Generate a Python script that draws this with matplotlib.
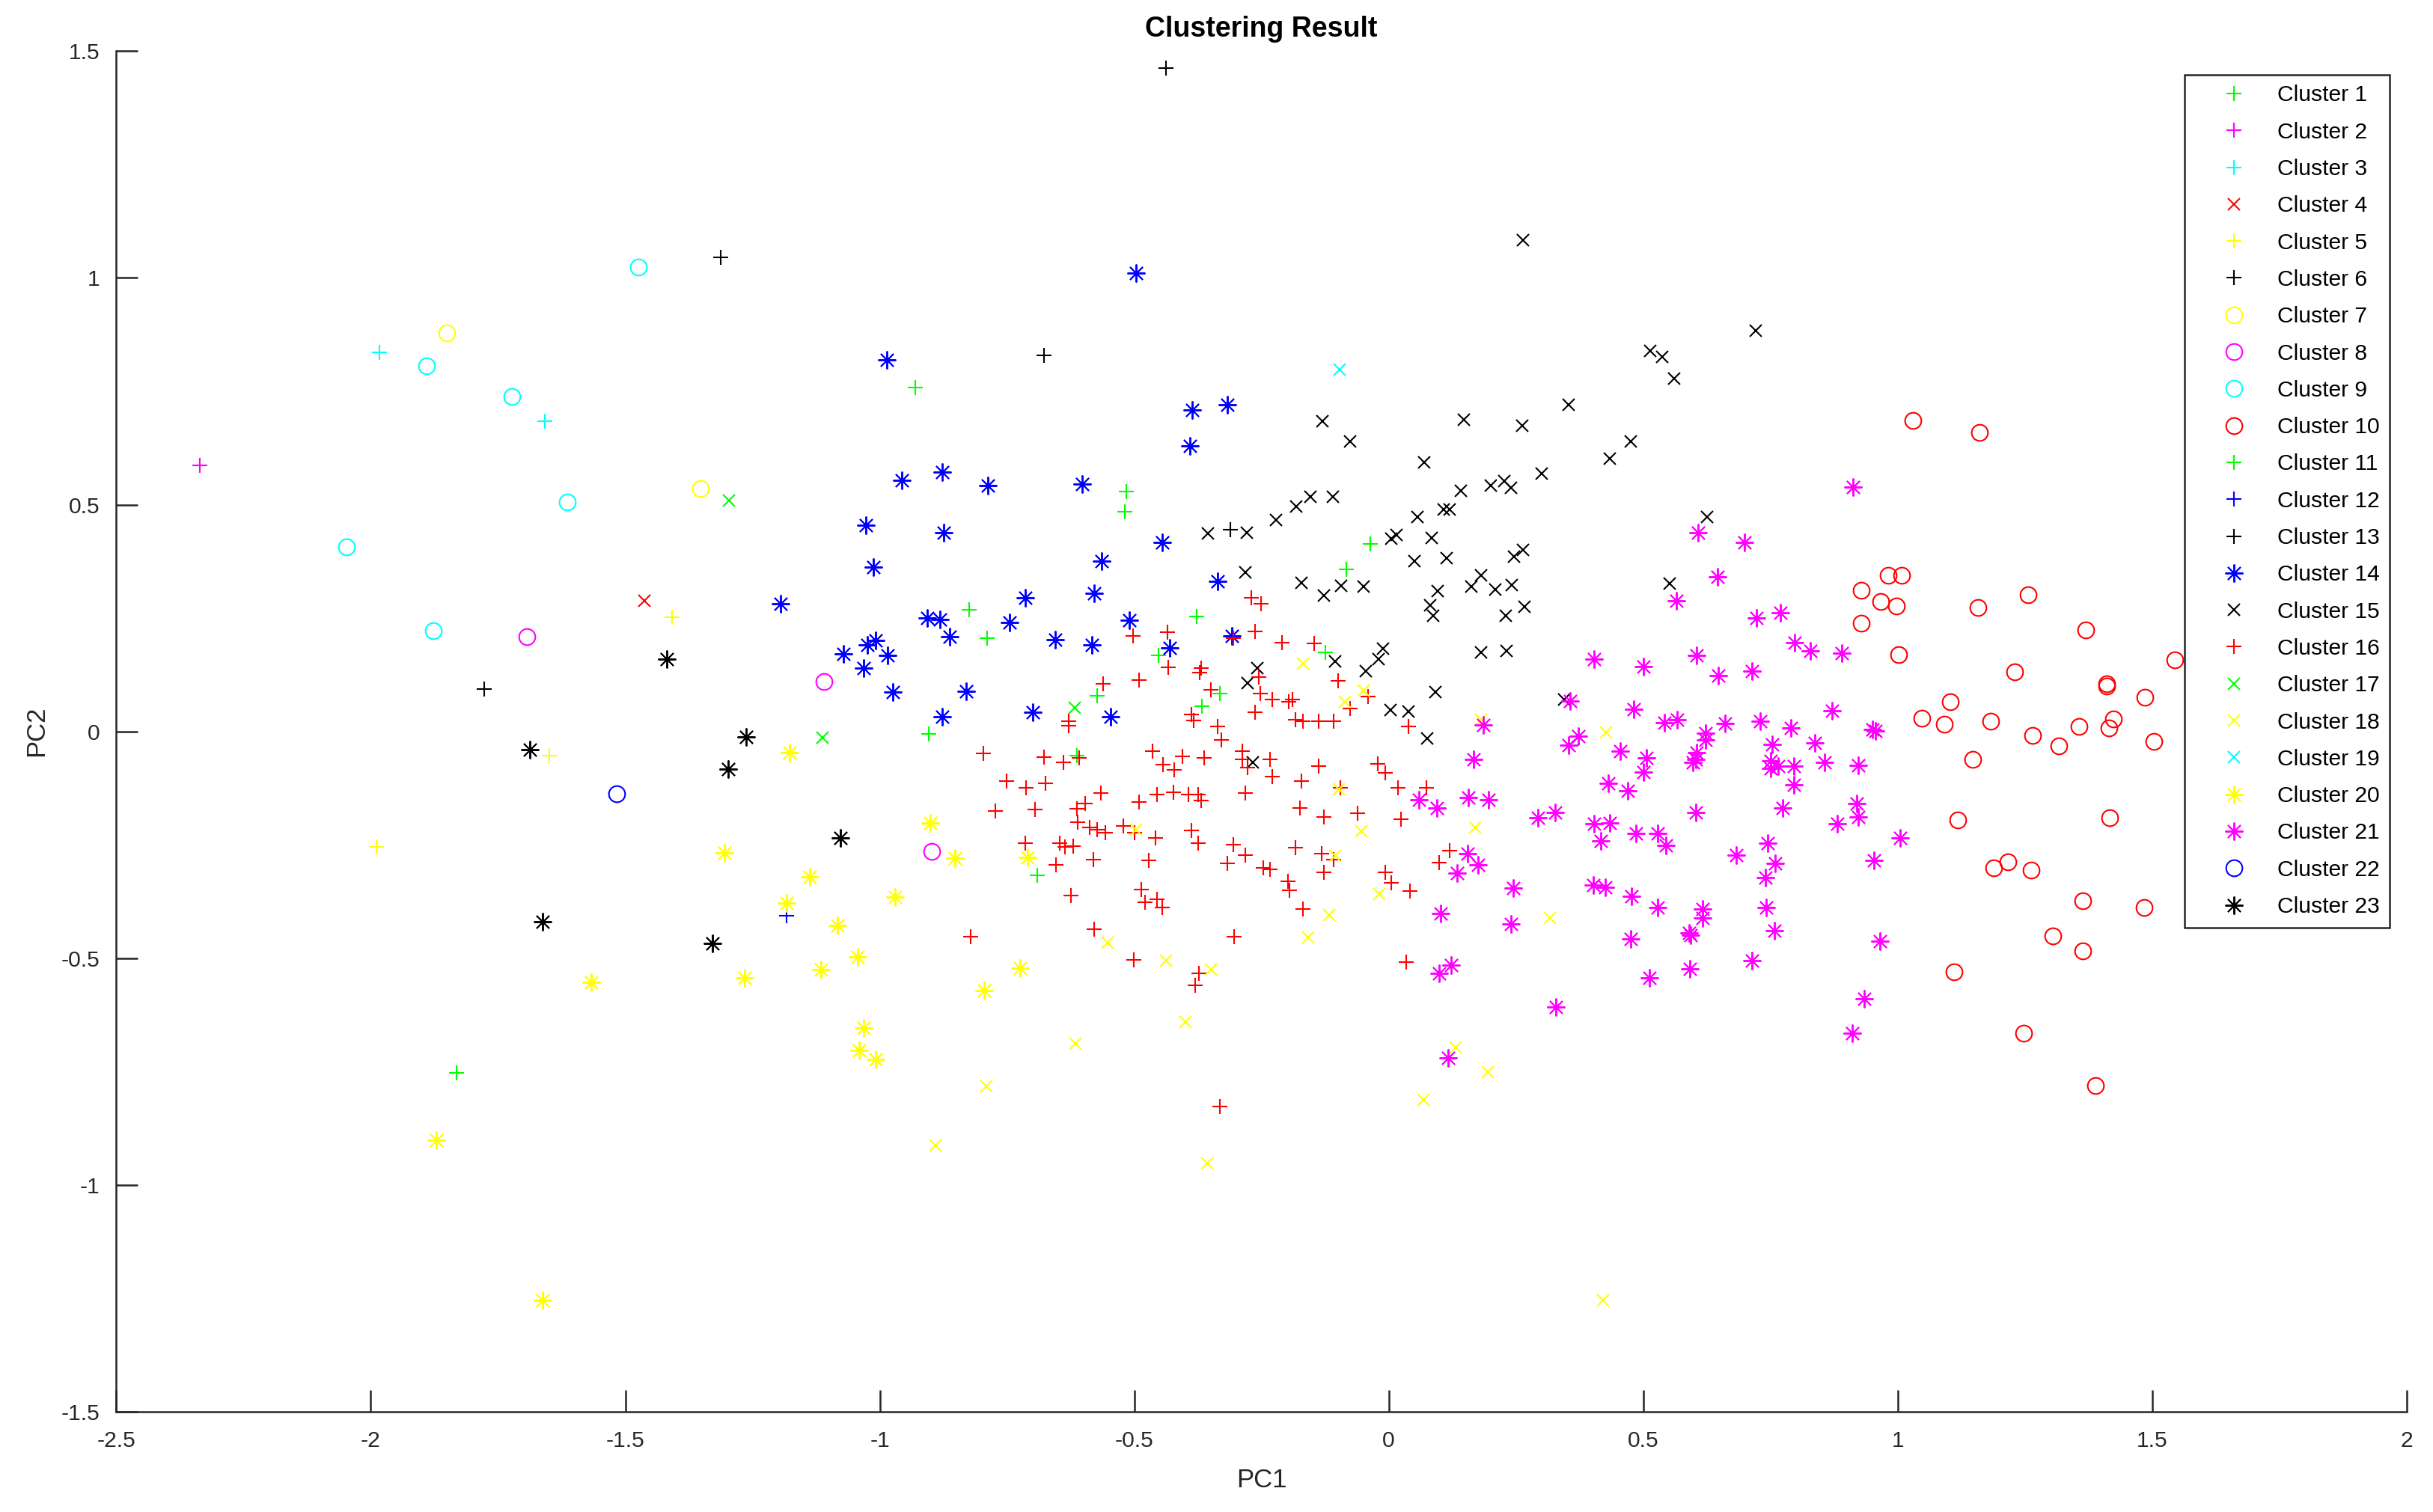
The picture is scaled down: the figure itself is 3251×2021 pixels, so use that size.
import matplotlib
matplotlib.use("Agg")
import matplotlib.pyplot as plt
import numpy as np

plt.rcParams['font.family'] = ['Liberation Sans', 'DejaVu Sans']
plt.rcParams['axes.unicode_minus'] = False

# ---------------- data (PC1, PC2) per cluster ----------------
C1 = [(-1.831, -0.752), (-0.930, 0.759), (-0.515, 0.529), (-0.518, 0.485), (-0.825, 0.269),
      (-0.789, 0.205), (-0.904, -0.005), (-0.690, -0.318)]
C2 = [(-2.336, 0.586)]
C3 = [(-1.983, 0.835), (-1.658, 0.684)]
C4 = [(-1.462, 0.288)]
C5 = [(-1.408, 0.251), (-1.649, -0.053), (-1.989, -0.254)]
C6 = [(-1.777, 0.094), (-1.312, 1.046), (-0.437, 1.462)]
C7 = [(-1.851, 0.878), (-1.352, 0.535)]
C8 = [(-1.693, 0.209), (-1.109, 0.110), (-0.898, -0.264)]
C9 = [(-1.474, 1.023), (-1.890, 0.806), (-1.723, 0.739), (-1.614, 0.506), (-2.048, 0.407),
      (-1.877, 0.222)]
C10 = [(0.981, 0.344), (1.007, 0.344), (0.929, 0.311), (0.966, 0.286), (0.997, 0.277),
       (0.928, 0.239), (1.002, 0.169), (1.157, 0.273), (1.256, 0.301), (1.370, 0.224),
       (1.545, 0.158), (1.230, 0.132), (1.410, 0.105), (1.410, 0.100), (1.485, 0.076),
       (1.103, 0.066), (1.047, 0.029), (1.091, 0.016), (1.183, 0.022), (1.424, 0.028),
       (1.415, 0.007), (1.356, 0.011), (1.265, -0.009), (1.317, -0.032), (1.503, -0.022),
       (1.147, -0.061), (1.118, -0.196), (1.417, -0.191), (1.189, -0.300), (1.216, -0.288),
       (1.262, -0.306), (1.364, -0.373), (1.484, -0.388), (1.305, -0.451), (1.364, -0.484),
       (1.110, -0.530), (1.247, -0.665), (1.389, -0.780), (1.030, 0.686), (1.161, 0.659)]
C11 = [(-0.377, 0.253), (-0.452, 0.167), (-0.573, 0.079), (-0.367, 0.055), (-0.332, 0.084),
       (-0.612, -0.053), (-0.037, 0.414), (-0.083, 0.357), (-0.125, 0.174)]
C12 = [(-1.183, -0.406)]
C13 = [(-0.677, 0.829), (-0.311, 0.444)]
C14 = [(-0.497, 1.011), (-0.986, 0.819), (-0.386, 0.708), (-0.317, 0.721), (-0.391, 0.630),
       (-0.956, 0.554), (-0.877, 0.571), (-0.787, 0.542), (-0.603, 0.546), (-1.027, 0.454),
       (-0.874, 0.438), (-1.013, 0.363), (-1.195, 0.281), (-0.445, 0.417), (-0.564, 0.375),
       (-0.336, 0.331), (-0.714, 0.294), (-0.579, 0.304), (-0.906, 0.250), (-0.882, 0.247),
       (-0.862, 0.209), (-0.745, 0.241), (-0.510, 0.246), (-0.656, 0.202), (-0.583, 0.190),
       (-0.430, 0.184), (-0.308, 0.210), (-1.071, 0.171), (-1.025, 0.190), (-1.008, 0.200),
       (-0.984, 0.167), (-1.032, 0.140), (-0.974, 0.087), (-0.831, 0.089), (-0.877, 0.033),
       (-0.700, 0.043), (-0.547, 0.033)]
C15 = [(0.264, 1.083), (0.721, 0.884), (0.513, 0.839), (0.537, 0.826), (0.561, 0.778),
       (0.354, 0.721), (-0.130, 0.684), (-0.076, 0.640), (0.148, 0.687), (0.262, 0.674),
       (0.475, 0.640), (0.434, 0.602), (0.070, 0.593), (0.300, 0.568), (0.201, 0.542),
       (0.227, 0.552), (0.240, 0.537), (0.142, 0.530), (-0.154, 0.518), (-0.110, 0.518),
       (-0.182, 0.496), (0.108, 0.490), (0.119, 0.490), (-0.222, 0.466), (-0.279, 0.439),
       (0.057, 0.473), (0.005, 0.425), (0.015, 0.433), (0.084, 0.426), (0.050, 0.375),
       (0.113, 0.382), (0.246, 0.386), (0.264, 0.400), (-0.282, 0.350), (-0.172, 0.327),
       (-0.127, 0.299), (-0.093, 0.321), (-0.049, 0.319), (0.096, 0.309), (0.081, 0.279),
       (0.087, 0.255), (0.162, 0.319), (0.182, 0.345), (0.210, 0.313), (0.242, 0.323),
       (0.266, 0.275), (0.230, 0.255), (0.552, 0.326), (0.626, 0.473), (0.182, 0.174),
       (0.232, 0.177), (-0.012, 0.183), (-0.020, 0.160), (-0.105, 0.155), (-0.045, 0.133),
       (-0.258, 0.139), (-0.277, 0.106), (0.092, 0.087), (0.004, 0.047), (0.038, 0.044),
       (0.076, -0.015), (0.344, 0.070), (-0.267, -0.068), (-0.355, 0.436)]
C16 = [(-0.503, 0.211), (-0.435, 0.219), (-0.434, 0.141), (-0.491, 0.114), (-0.368, 0.140),
       (-0.372, 0.130), (-0.561, 0.105), (-0.350, 0.092), (-0.387, 0.037), (-0.384, 0.024),
       (-0.629, 0.023), (-0.629, 0.012), (-0.336, 0.011), (-0.329, -0.018), (-0.287, -0.043),
       (-0.287, -0.062), (-0.278, -0.079), (-0.305, 0.205), (-0.797, -0.049), (-0.678, -0.057),
       (-0.639, -0.069), (-0.608, -0.058), (-0.464, -0.043), (-0.443, -0.073), (-0.421, -0.084),
       (-0.406, -0.055), (-0.363, -0.059), (-0.751, -0.109), (-0.712, -0.124), (-0.675, -0.114),
       (-0.270, 0.295), (-0.251, 0.281), (-0.263, 0.221), (-0.210, 0.196), (-0.146, 0.194),
       (-0.255, 0.120), (-0.100, 0.111), (-0.253, 0.084), (-0.229, 0.070), (-0.197, 0.066),
       (-0.189, 0.071), (-0.040, 0.077), (-0.263, 0.043), (-0.076, 0.051), (-0.183, 0.026),
       (-0.168, 0.023), (-0.137, 0.023), (-0.108, 0.023), (0.038, 0.011), (-0.234, -0.062),
       (-0.137, -0.077), (-0.229, -0.099), (-0.171, -0.109), (-0.022, -0.071), (-0.007, -0.091),
       (0.018, -0.125), (0.074, -0.125), (-0.095, -0.125), (-0.282, -0.136), (-0.175, -0.169),
       (-0.127, -0.189), (-0.062, -0.181), (0.024, -0.194), (-0.183, -0.257), (-0.132, -0.269),
       (-0.108, -0.282), (-0.282, -0.273), (-0.246, -0.301), (-0.234, -0.304), (-0.198, -0.330),
       (-0.195, -0.351), (-0.127, -0.311), (-0.007, -0.311), (0.005, -0.333), (0.042, -0.352),
       (0.119, -0.263), (0.099, -0.289), (-0.168, -0.392), (0.034, -0.509), (-0.566, -0.136),
       (-0.455, -0.139), (-0.423, -0.134), (-0.393, -0.139), (-0.375, -0.139), (-0.368, -0.153),
       (-0.773, -0.175), (-0.695, -0.172), (-0.612, -0.170), (-0.596, -0.159), (-0.491, -0.156),
       (-0.611, -0.200), (-0.588, -0.211), (-0.573, -0.216), (-0.557, -0.224), (-0.521, -0.208),
       (-0.499, -0.224), (-0.459, -0.235), (-0.387, -0.219), (-0.375, -0.246), (-0.305, -0.249),
       (-0.714, -0.246), (-0.647, -0.247), (-0.636, -0.255), (-0.620, -0.253), (-0.654, -0.295),
       (-0.581, -0.282), (-0.471, -0.285), (-0.317, -0.291), (-0.625, -0.361), (-0.486, -0.348),
       (-0.479, -0.376), (-0.455, -0.370), (-0.445, -0.389), (-0.821, -0.453), (-0.579, -0.436),
       (-0.501, -0.503), (-0.304, -0.453), (-0.373, -0.533), (-0.380, -0.560), (-0.332, -0.827)]
C17 = [(-1.297, 0.509), (-1.112, -0.013), (-0.617, 0.053)]
C18 = [(-0.169, 0.149), (-0.050, 0.090), (-0.086, 0.065), (0.182, 0.026), (0.427, -0.002),
       (-0.098, -0.128), (-0.054, -0.220), (-0.106, -0.275), (0.170, -0.211), (-0.018, -0.358),
       (-0.117, -0.405), (-0.159, -0.455), (0.316, -0.411), (0.131, -0.697), (0.194, -0.751),
       (0.068, -0.812), (-0.497, -0.216), (-0.552, -0.465), (-0.438, -0.506), (-0.350, -0.525),
       (-0.399, -0.641), (-0.615, -0.688), (-0.790, -0.783), (-0.890, -0.912), (-0.357, -0.953),
       (0.421, -1.254)]
C19 = [(-0.097, 0.798)]
C20 = [(-0.901, -0.201), (-0.853, -0.279), (-0.710, -0.277), (-1.137, -0.321), (-0.970, -0.365),
       (-1.183, -0.378), (-1.083, -0.427), (-1.044, -0.497), (-1.115, -0.525), (-0.724, -0.521),
       (-0.795, -0.572), (-1.032, -0.653), (-1.040, -0.703), (-1.008, -0.723), (-1.178, -0.046),
       (-1.305, -0.267), (-1.567, -0.553), (-1.266, -0.543), (-1.872, -0.902), (-1.663, -1.255)]
C21 = [(0.608, 0.439), (0.565, 0.288), (0.646, 0.341), (0.404, 0.159), (0.501, 0.143),
       (0.605, 0.167), (0.648, 0.123), (0.356, 0.067), (0.482, 0.049), (0.542, 0.020),
       (0.567, 0.026), (0.623, -0.004), (0.623, -0.018), (0.186, 0.014), (0.372, -0.011),
       (0.353, -0.031), (0.455, -0.043), (0.506, -0.058), (0.501, -0.090), (0.605, -0.046),
       (0.603, -0.062), (0.598, -0.068), (0.167, -0.062), (0.432, -0.115), (0.470, -0.131),
       (0.912, 0.539), (0.699, 0.417), (0.723, 0.250), (0.769, 0.262), (0.798, 0.196),
       (0.829, 0.177), (0.890, 0.172), (0.713, 0.133), (0.871, 0.045), (0.660, 0.018),
       (0.730, 0.023), (0.790, 0.008), (0.956, 0.001), (0.950, 0.004), (0.754, -0.029),
       (0.837, -0.026), (0.751, -0.065), (0.765, -0.077), (0.751, -0.081), (0.796, -0.077),
       (0.856, -0.068), (0.922, -0.075), (0.796, -0.117), (0.060, -0.150), (0.095, -0.169),
       (0.157, -0.145), (0.196, -0.150), (0.293, -0.191), (0.327, -0.178), (0.404, -0.203),
       (0.434, -0.201), (0.417, -0.241), (0.485, -0.225), (0.529, -0.225), (0.545, -0.251),
       (0.604, -0.179), (0.155, -0.269), (0.176, -0.295), (0.135, -0.313), (0.245, -0.345),
       (0.402, -0.339), (0.426, -0.343), (0.477, -0.363), (0.529, -0.389), (0.616, -0.392),
       (0.616, -0.411), (0.102, -0.401), (0.240, -0.424), (0.475, -0.458), (0.590, -0.445),
       (0.593, -0.449), (0.122, -0.515), (0.099, -0.533), (0.592, -0.524), (0.512, -0.543),
       (0.329, -0.607), (0.116, -0.719), (0.774, -0.169), (0.919, -0.159), (0.922, -0.189),
       (0.881, -0.203), (1.004, -0.235), (0.745, -0.247), (0.682, -0.273), (0.759, -0.291),
       (0.953, -0.285), (0.740, -0.323), (0.742, -0.389), (0.757, -0.440), (0.965, -0.462),
       (0.713, -0.506), (0.934, -0.590), (0.910, -0.665)]
C22 = [(-1.517, -0.137)]
C23 = [(-1.419, 0.159), (-1.688, -0.040), (-1.263, -0.012), (-1.298, -0.083), (-1.078, -0.235),
       (-1.663, -0.419), (-1.329, -0.467)]

CLUSTER_LABELS = [f"Cluster {i}" for i in range(1, 24)]
X_TICKS = [-2.5, -2, -1.5, -1, -0.5, 0, 0.5, 1, 1.5, 2]
X_TICK_LABELS = ["-2.5", "-2", "-1.5", "-1", "-0.5", "0", "0.5", "1", "1.5", "2"]
Y_TICKS = [-1.5, -1, -0.5, 0, 0.5, 1, 1.5]
Y_TICK_LABELS = ["-1.5", "-1", "-0.5", "0", "0.5", "1", "1.5"]

# ---------------- styles ----------------
G, M, CY, R, Y, K, B = '#00FF00', '#FF00FF', '#00FFFF', '#FF0000', '#FFFF00', '#000000', '#0000FF'
ASTER = (8, 2, 0)
styles = [
    (G, '+'), (M, '+'), (CY, '+'), (R, 'x'), (Y, '+'), (K, '+'), (Y, 'o'), (M, 'o'),
    (CY, 'o'), (R, 'o'), (G, '+'), (B, '+'), (K, '+'), (B, ASTER), (K, 'x'), (R, '+'),
    (G, 'x'), (Y, 'x'), (CY, 'x'), (Y, ASTER), (M, ASTER), (B, 'o'), (K, ASTER),
]
clusters = [C1, C2, C3, C4, C5, C6, C7, C8, C9, C10, C11, C12, C13, C14, C15, C16,
            C17, C18, C19, C20, C21, C22, C23]

fig = plt.figure(figsize=(16.255, 10.105), dpi=200)
ax = fig.add_axes([0.0478, 0.0663, 0.9414, 0.8999])

for pts, (col, mk), lab in zip(clusters, styles, CLUSTER_LABELS):
    arr = np.array(pts)
    if mk == 'x':
        ms, mew = 5.6, 0.75
    elif mk == 'o':
        ms, mew = 7.8, 0.75
    elif mk == '+':
        ms, mew = 7.4, 0.75
    else:
        ms, mew = 8.6, 0.7
    ax.plot(arr[:, 0], arr[:, 1], linestyle='none', marker=mk, markersize=ms,
            markerfacecolor='none', markeredgecolor=col, markeredgewidth=mew,
            color=col, label=lab)

ax.set_xlim(-2.5, 2)
ax.set_ylim(-1.5, 1.5)
ax.set_xticks(X_TICKS)
ax.set_xticklabels(X_TICK_LABELS)
ax.set_yticks(Y_TICKS)
ax.set_yticklabels(Y_TICK_LABELS)

for s in ['top', 'right']:
    ax.spines[s].set_visible(False)
for s in ['left', 'bottom']:
    ax.spines[s].set_color('#262626')
    ax.spines[s].set_linewidth(0.9)

ax.tick_params(direction='in', length=10.6, width=0.9, colors='#262626',
               labelsize=10.8, pad=8)
ax.tick_params(axis='x', pad=9)

ax.set_title('Clustering Result', fontsize=13.5, fontweight='bold', pad=7)
ax.set_xlabel('PC1', fontsize=12.5, color='#262626', labelpad=8)
ax.set_ylabel('PC2', fontsize=12.5, color='#262626', labelpad=6)

leg = ax.legend(loc='upper right', bbox_to_anchor=(0.9925, 0.9826), borderaxespad=0,
                fontsize=10.8, labelspacing=0.71, borderpad=0.45, handlelength=3.5,
                handletextpad=0.17, fancybox=False, framealpha=1, edgecolor='#262626')
leg.get_frame().set_linewidth(0.9)

fig.savefig('out.png', dpi=200)
